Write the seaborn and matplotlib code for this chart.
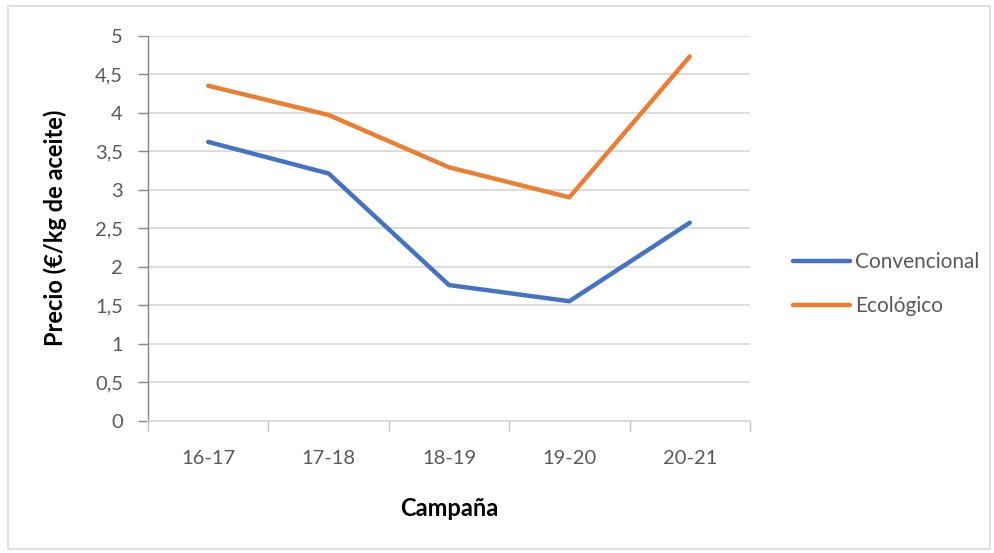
import matplotlib
matplotlib.use("Agg")
import matplotlib.pyplot as plt
import seaborn as sns
import pandas as pd
from matplotlib.patches import Rectangle
from matplotlib.ticker import FixedLocator, FixedFormatter

campanas = ["16-17", "17-18", "18-19", "19-20", "20-21"]
convencional = [3.62, 3.21, 1.76, 1.55, 2.57]
ecologico = [4.35, 3.97, 3.29, 2.90, 4.73]
series_names = ["Convencional", "Ecológico"]
y_ticks = [0, 0.5, 1, 1.5, 2, 2.5, 3, 3.5, 4, 4.5, 5]
y_tick_labels = ["0", "0,5", "1", "1,5", "2", "2,5", "3", "3,5", "4", "4,5", "5"]

df = pd.DataFrame({
    "x": list(range(len(campanas))) * 2,
    "Campaña": campanas * 2,
    "Precio": convencional + ecologico,
    "Serie": [series_names[0]] * len(campanas) + [series_names[1]] * len(campanas),
})

sns.set_theme(style="white")
plt.rcParams['font.family'] = ['Lato', 'DejaVu Sans']

fig = plt.figure(figsize=(9.94, 5.53), dpi=100)
ax = fig.add_axes([0.1489, 0.2396, 0.6056, 0.6958])

palette = {"Convencional": "#4472C4", "Ecológico": "#ED7D31"}
sns.lineplot(data=df, x="x", y="Precio", hue="Serie", palette=palette,
             linewidth=3.2, ax=ax, solid_capstyle="round", legend=True)

ax.set_xlim(-0.5, len(campanas) - 0.5)
ax.set_ylim(0, 5)

# y axis
ax.yaxis.set_major_locator(FixedLocator(y_ticks))
ax.yaxis.set_major_formatter(FixedFormatter(y_tick_labels))
ax.yaxis.grid(True, color="#D9D9D9", linewidth=1.3)
ax.set_axisbelow(True)

# x axis: labels at centers, tick marks at boundaries
ax.set_xticks(range(len(campanas)))
ax.set_xticklabels(campanas)
ax.set_xticks([i - 0.5 for i in range(len(campanas) + 1)], minor=True)
ax.tick_params(axis="x", which="major", length=0, pad=21, labelsize=14.5, labelcolor="#595959")
ax.tick_params(axis="x", which="minor", length=7, width=1, color="#BFBFBF", direction="out", bottom=True)
ax.tick_params(axis="y", which="major", length=7, width=1, color="#868686", direction="out", left=True,
               labelsize=14.5, labelcolor="#595959", pad=11)

for s in ["top", "right"]:
    ax.spines[s].set_visible(False)
ax.spines["left"].set_color("#868686")
ax.spines["left"].set_linewidth(1)
ax.spines["bottom"].set_color("#D9D9D9")
ax.spines["bottom"].set_linewidth(1.3)

ax.set_xlabel("Campaña", fontsize=17, fontweight="bold", color="black", labelpad=22)
ax.set_ylabel("Precio (€/kg de aceite)", fontsize=17, fontweight="bold", color="black", labelpad=20)

leg = ax.legend(loc="center left", bbox_to_anchor=(1.04, 0.355), frameon=False,
                fontsize=15, handlelength=2.75, handletextpad=0.25, labelspacing=1.15)
for t in leg.get_texts():
    t.set_color("#595959")
for h in leg.get_lines():
    h.set_linewidth(3.2)

fig.patches.append(Rectangle((8 / 994, 1 - 549 / 553), 982 / 994, 543 / 553,
                             transform=fig.transFigure, fill=False,
                             edgecolor="#D9D9D9", linewidth=1.2))

fig.savefig("out.png", dpi=100)
